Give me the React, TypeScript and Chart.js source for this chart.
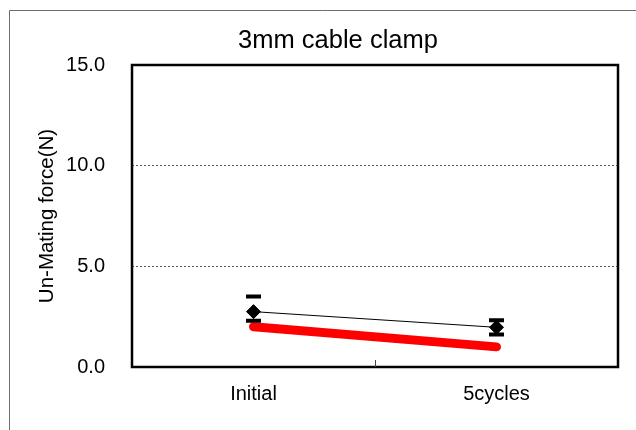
import React, { useEffect, useRef } from "react";
import { Chart, registerables } from "chart.js";

Chart.register(...registerables);

const categories = ["Initial", "5cycles"];
const meanValues = [2.75, 1.97];
const maxValues = [3.5, 2.32];
const minValues = [2.3, 1.62];
const limitValues = [2.0, 1.0];
const chartTitle = "3mm cable clamp";
const yTitle = "Un-Mating force(N)";

const FONT = "'Liberation Sans', Arial, sans-serif";

const framePlugin = {
  id: "framePlugin",
  beforeDraw(chart: any) {
    const ctx = chart.ctx;
    ctx.save();
    ctx.fillStyle = "#ffffff";
    ctx.fillRect(0, 0, chart.width, chart.height);
    ctx.strokeStyle = "#6e6e6e";
    ctx.lineWidth = 1;
    ctx.beginPath();
    ctx.moveTo(9.5, chart.height);
    ctx.lineTo(9.5, 10.5);
    ctx.lineTo(chart.width, 10.5);
    ctx.stroke();
    ctx.restore();
  },
  afterDatasetsDraw(chart: any) {
    const ctx = chart.ctx;
    const a = chart.chartArea;
    const xs = chart.scales.x;
    ctx.save();
    ctx.strokeStyle = "#000";
    ctx.lineWidth = 2.5;
    ctx.strokeRect(a.left, a.top, a.right - a.left, a.bottom - a.top);
    // inner category divider tick
    ctx.lineWidth = 1;
    ctx.strokeStyle = "#444";
    const mx = Math.round(xs.getPixelForValue(0.5)) + 0.5;
    ctx.beginPath();
    ctx.moveTo(mx, a.bottom);
    ctx.lineTo(mx, a.bottom - 7);
    ctx.stroke();
    // title
    ctx.fillStyle = "#000";
    ctx.font = `25.5px ${FONT}`;
    ctx.textAlign = "center";
    ctx.textBaseline = "alphabetic";
    ctx.fillText(chartTitle, 338, 48);
    ctx.restore();
  },
};

export default function App() {
  const ref = useRef<HTMLCanvasElement>(null);
  useEffect(() => {
    if (!ref.current) return;
    const chart = new Chart(ref.current, {
      type: "line",
      data: {
        labels: categories,
        datasets: [
          {
            label: "mean",
            data: meanValues,
            borderColor: "#000",
            borderWidth: 1,
            backgroundColor: "#000",
            pointStyle: "rectRot",
            pointRadius: 7,
            pointBorderWidth: 1,
            pointBackgroundColor: "#000",
            pointBorderColor: "#000",
            order: 1,
          },
          {
            label: "max",
            data: maxValues,
            showLine: false,
            borderColor: "#000",
            pointStyle: "line",
            pointRadius: 7.5,
            pointBorderWidth: 4,
            pointBorderColor: "#000",
            order: 2,
          },
          {
            label: "min",
            data: minValues,
            showLine: false,
            borderColor: "#000",
            pointStyle: "line",
            pointRadius: 7.5,
            pointBorderWidth: 4,
            pointBorderColor: "#000",
            order: 3,
          },
          {
            label: "limit",
            data: limitValues,
            borderColor: "#ff0000",
            borderWidth: 9,
            borderCapStyle: "round",
            pointRadius: 0,
            order: 4,
          },
        ],
      },
      options: {
        responsive: false,
        animation: false,
        layout: { padding: { top: 65, right: 18, left: 0, bottom: 0 } },
        plugins: {
          legend: { display: false },
          title: { display: false },
          tooltip: { enabled: false },
        },
        scales: {
          x: {
            type: "category",
            offset: true,
            grid: { display: false },
            border: { display: false },
            ticks: {
              color: "#000",
              font: { family: FONT, size: 20 },
              padding: 7,
              maxRotation: 0,
            },
            afterFit(scale: any) {
              scale.height = 63;
            },
          },
          y: {
            min: 0,
            max: 15,
            border: { display: false, dash: [2, 2] },
            grid: {
              drawTicks: false,
              color: (c: any) =>
                c.tick && (c.tick.value === 0 || c.tick.value === 15)
                  ? "rgba(0,0,0,0)"
                  : "#555",
              lineWidth: 1,
            },
            ticks: {
              stepSize: 5,
              color: "#000",
              font: { family: FONT, size: 20 },
              padding: 27,
              callback: (v: any) => Number(v).toFixed(1),
            },
            title: {
              display: true,
              text: yTitle,
              color: "#000",
              font: { family: FONT, size: 20.5 },
              padding: { top: 35.5, bottom: 0 },
            },
            afterFit(scale: any) {
              scale.width = 132;
            },
          },
        },
      },
      plugins: [framePlugin],
    });
    return () => chart.destroy();
  }, []);
  return (
    <div style={{ position: "absolute", left: 0, top: 0, width: 636, height: 430 }}>
      <canvas ref={ref} width={636} height={430} style={{ display: "block", width: 636, height: 430 }} />
    </div>
  );
}
